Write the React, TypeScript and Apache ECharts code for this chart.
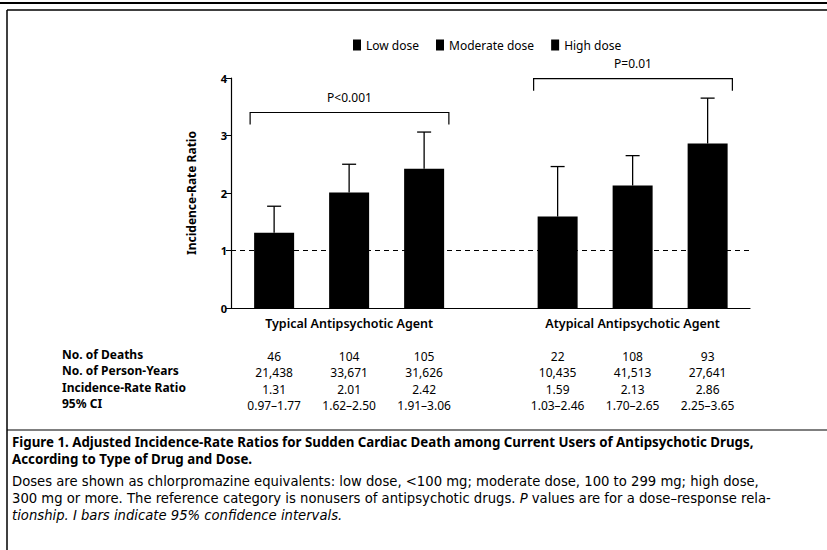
import React, { useEffect, useRef } from "react";
import * as echarts from "echarts";

// ---- data ----
const groups = ["Typical Antipsychotic Agent", "Atypical Antipsychotic Agent"];
const doses = ["Low dose", "Moderate dose", "High dose"];
const irr = [
  [1.31, 2.01, 2.42],
  [1.59, 2.13, 2.86],
];
const ciText = [
  ["0.97\u20131.77", "1.62\u20132.50", "1.91\u20133.06"],
  ["1.03\u20132.46", "1.70\u20132.65", "2.25\u20133.65"],
];
const ciHigh = [
  [1.77, 2.5, 3.06],
  [2.46, 2.65, 3.65],
];
const deaths = [
  ["46", "104", "105"],
  ["22", "108", "93"],
];
const personYears = [
  ["21,438", "33,671", "31,626"],
  ["10,435", "41,513", "27,641"],
];
const pValues = ["P<0.001", "P=0.01"];
const rowLabels = ["No. of Deaths", "No. of Person-Years", "Incidence-Rate Ratio", "95% CI"];
const yTicks = [0, 1, 2, 3, 4];
const referenceValue = 1;

// ---- layout ----
const GROUP_CENTERS = [1.575, 5.355];
const DOSE_OFFSETS = [-1, 0, 1];
const X_MAX = 6.92;
const ROW_Y = [356, 372, 389, 405];
const FONT = "'Noto Sans', sans-serif";
const CAP_FONT = "'DejaVu Sans', sans-serif";

const pos = (g: number, d: number) => GROUP_CENTERS[g] + DOSE_OFFSETS[d];

export default function App() {
  const ref = useRef<HTMLDivElement>(null);
  useEffect(() => {
    if (!ref.current) return;
    const chart = echarts.init(ref.current, undefined, { renderer: "svg" });

    const barSeries = doses.map((dose, d) => ({
      name: dose,
      type: "bar",
      barWidth: 40,
      barGap: "-100%",
      itemStyle: { color: "#000" },
      data: groups.map((_, g) => [pos(g, d), irr[g][d]]),
      markLine:
        d === 0
          ? {
              silent: true,
              symbol: "none",
              label: { show: false },
              lineStyle: { color: "#000", type: [5, 4], width: 1.2 },
              data: [{ yAxis: referenceValue }],
              z: 1,
            }
          : undefined,
      z: 2,
    }));

    const errData: number[][] = [];
    const tableData: number[][] = [];
    groups.forEach((_, g) =>
      doses.forEach((__, d) => {
        errData.push([pos(g, d), irr[g][d], ciHigh[g][d]]);
        tableData.push([pos(g, d), 0, g, d]);
      })
    );

    const groupData = groups.map((_, g) => [GROUP_CENTERS[g], Math.max(...ciHigh[g]) + 0.34, g]);

    chart.setOption({
      animation: false,
      legend: {
        data: doses,
        top: 34,
        left: 348,
        itemWidth: 8,
        itemHeight: 11,
        itemGap: 17,
        icon: "rect",
        textStyle: { fontFamily: FONT, fontSize: 12, color: "#000" },
      },
      grid: { left: 231, right: 77, top: 78, bottom: 242 },
      xAxis: {
        type: "value",
        min: 0,
        max: X_MAX,
        axisLine: { show: true, lineStyle: { color: "#000", width: 1.2 } },
        axisTick: { show: false },
        axisLabel: { show: false },
        splitLine: { show: false },
      },
      yAxis: {
        type: "value",
        min: yTicks[0],
        max: yTicks[yTicks.length - 1],
        interval: 1,
        name: "Incidence-Rate Ratio",
        nameLocation: "middle",
        nameGap: 34,
        nameTextStyle: { fontFamily: FONT, fontSize: 12, fontWeight: "bold", color: "#000" },
        axisLine: { show: true, lineStyle: { color: "#000", width: 1.2 } },
        axisTick: { show: true, length: 5, lineStyle: { color: "#000" } },
        axisLabel: { fontFamily: FONT, fontSize: 11, fontWeight: "bold", color: "#000", margin: 4 },
        splitLine: { show: false },
      },
      series: [
        ...barSeries,
        {
          type: "custom",
          name: "ci",
          clip: false,
          z: 3,
          encode: { x: 0, y: 1 },
          data: errData,
          renderItem: (params: any, api: any) => {
            const x = api.value(0);
            const p0 = api.coord([x, api.value(1)]);
            const p1 = api.coord([x, api.value(2)]);
            return {
              type: "group",
              children: [
                { type: "line", shape: { x1: p0[0], y1: p0[1], x2: p1[0], y2: p1[1] }, style: { stroke: "#000", lineWidth: 1.3 } },
                { type: "line", shape: { x1: p1[0] - 7, y1: p1[1], x2: p1[0] + 7, y2: p1[1] }, style: { stroke: "#000", lineWidth: 1.3 } },
              ],
            };
          },
        },
        {
          type: "custom",
          name: "groups",
          clip: false,
          z: 3,
          encode: { x: 0, y: 1 },
          data: groupData,
          renderItem: (params: any, api: any) => {
            const c = api.value(0);
            const y = api.value(1);
            const g = api.value(2);
            const left = api.coord([c - 1.32, y]);
            const right = api.coord([c + 1.33, y]);
            const drop = api.coord([c, y - 0.21]);
            const base = api.coord([c, 0]);
            return {
              type: "group",
              children: [
                {
                  type: "polyline",
                  shape: { points: [[left[0], drop[1]], [left[0], left[1]], [right[0], right[1]], [right[0], drop[1]]] },
                  style: { stroke: "#000", lineWidth: 1.2, fill: "none" },
                },
                {
                  type: "text",
                  x: (left[0] + right[0]) / 2,
                  y: left[1] - 15,
                  style: { text: pValues[g], font: `12px ${FONT}`, fill: "#000", textAlign: "center", textVerticalAlign: "middle" },
                },
                {
                  type: "text",
                  x: base[0],
                  y: base[1] + 15,
                  style: { text: groups[g], font: `600 12.5px ${FONT}`, fill: "#000", textAlign: "center", textVerticalAlign: "middle" },
                },
              ],
            };
          },
        },
        {
          type: "custom",
          name: "table",
          clip: false,
          z: 3,
          encode: { x: 0, y: 1 },
          data: tableData,
          renderItem: (params: any, api: any) => {
            const x = api.coord([api.value(0), 0])[0];
            const g = api.value(2);
            const d = api.value(3);
            const vals = [deaths[g][d], personYears[g][d], irr[g][d].toFixed(2), ciText[g][d]];
            return {
              type: "group",
              children: vals.map((t, i) => ({
                type: "text",
                x,
                y: ROW_Y[i],
                style: { text: t, font: `12px ${FONT}`, fill: "#000", textAlign: "center", textVerticalAlign: "middle" },
              })),
            };
          },
        },
      ],
      graphic: [
        { type: "line", shape: { x1: 0, y1: 3, x2: 827, y2: 3 }, style: { stroke: "#000", lineWidth: 2 } },
        { type: "line", shape: { x1: 7, y1: 10, x2: 827, y2: 10 }, style: { stroke: "#000", lineWidth: 1.5 } },
        { type: "line", shape: { x1: 7, y1: 10, x2: 7, y2: 550 }, style: { stroke: "#000", lineWidth: 1.5 } },
        { type: "line", shape: { x1: 7, y1: 430, x2: 827, y2: 430 }, style: { stroke: "#000", lineWidth: 1.2 } },
        ...rowLabels.map((t, i) => ({
          type: "text",
          left: 62,
          top: ROW_Y[i] - 8,
          style: { text: t, font: `bold 12px ${FONT}`, fill: "#000" },
        })),
        {
          type: "text",
          left: 12,
          top: 433,
          style: {
            text: "Figure 1. Adjusted Incidence-Rate Ratios for Sudden Cardiac Death among Current Users of Antipsychotic Drugs,\nAccording to Type of Drug and Dose.",
            font: `bold 13.3px ${FONT}`,
            lineHeight: 17,
            fill: "#000",
          },
        },
        {
          type: "text",
          left: 12,
          top: 473,
          style: {
            text:
              "Doses are shown as chlorpromazine equivalents: low dose, <100 mg; moderate dose, 100 to 299 mg; high dose,\n300 mg or more. The reference category is nonusers of antipsychotic drugs. {i|P} values are for a dose\u2013response rela-\n{i|tionship. I bars indicate 95% confidence intervals.}",
            font: `13.2px ${CAP_FONT}`,
            lineHeight: 17,
            fill: "#000",
            rich: { i: { fontStyle: "italic", fontFamily: CAP_FONT, fontSize: 13.2, fill: "#000", lineHeight: 17 } },
          },
        },
      ],
    });
    return () => chart.dispose();
  }, []);
  return <div ref={ref} style={{ position: "fixed", left: 0, top: 0, width: 827, height: 550, background: "#fff" }} />;
}
